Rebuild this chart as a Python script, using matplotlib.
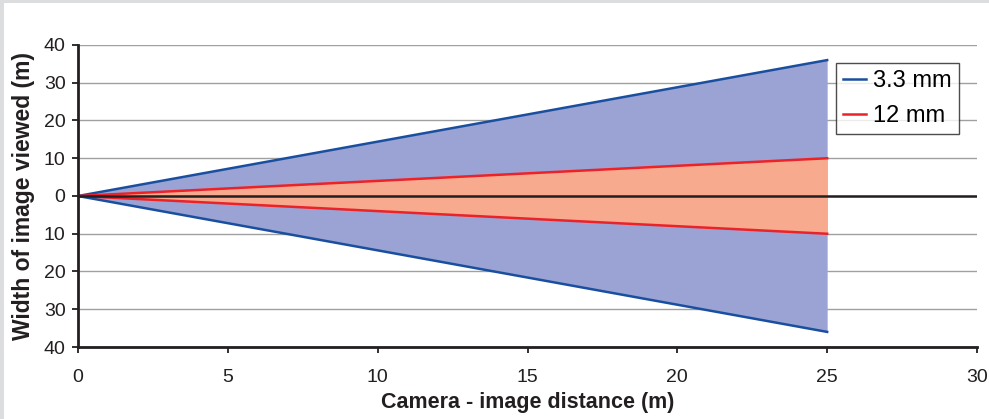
import numpy as np
import matplotlib
matplotlib.use('Agg')
import matplotlib.pyplot as plt
from matplotlib.patches import Rectangle

plt.rcParams['font.family'] = ['Liberation Sans', 'DejaVu Sans']

# distance from camera (m) and half-width of view (m)
distance = [0, 25]
half_width_33 = [0, 36]
half_width_12 = [0, 10]
labels = ['3.3 mm', '12 mm']
yticks = [-40, -30, -20, -10, 0, 10, 20, 30, 40]
ytick_labels = ['40', '30', '20', '10', '0', '10', '20', '30', '40']
xticks = [0, 5, 10, 15, 20, 25, 30]

blue_line = '#1a4fa0'
blue_fill = '#9aa3d3'
red_line = '#ec2229'
red_fill = '#f8aa8e'

fig = plt.figure(figsize=(9.89, 4.19), dpi=100)
fig.patch.set_facecolor('#dcdddf')
fig.patches.append(Rectangle((4 / 989, 0), 1, 1 - 3 / 419, transform=fig.transFigure,
                             facecolor='white', edgecolor='none', zorder=-10))

ax = fig.add_axes([78 / 989, 1 - 347 / 419, (977 - 78) / 989, (347 - 45) / 419])
ax.set_facecolor('none')

d = np.array(distance)
w33 = np.array(half_width_33)
w12 = np.array(half_width_12)

ax.fill_between(d, -w33, w33, color=blue_fill, lw=0, zorder=2)
ax.fill_between(d, -w12, w12, color=red_fill, lw=0, zorder=3)
l1, = ax.plot(d, w33, color=blue_line, lw=1.8, zorder=5, label=labels[0])
ax.plot(d, -w33, color=blue_line, lw=1.8, zorder=5)
l2, = ax.plot(d, w12, color=red_line, lw=1.8, zorder=5, label=labels[1])
ax.plot(d, -w12, color=red_line, lw=1.8, zorder=5)
ax.axhline(0, color='#231f20', lw=1.8, zorder=6)

ax.set_xlim(0, 30)
ax.set_ylim(-40, 40)
ax.set_yticks(yticks)
ax.set_yticklabels(ytick_labels)
ax.set_xticks(xticks)
ax.grid(axis='y', color='#a0a0a0', lw=1, zorder=1)

for s in ['top', 'right']:
    ax.spines[s].set_visible(False)
for s in ['left', 'bottom']:
    ax.spines[s].set_linewidth(2)
    ax.spines[s].set_color('#231f20')
    ax.spines[s].set_zorder(7)

ax.tick_params(axis='both', labelsize=14, colors='#231f20', width=1.3, length=4, pad=5)
ax.tick_params(axis='x', pad=12)

ax.set_xlabel('Camera - image distance (m)', fontsize=15.5, fontweight='bold', color='#231f20', labelpad=4)
ax.set_ylabel('Width of image viewed (m)', fontsize=16.5, fontweight='bold', color='#231f20', labelpad=6)

leg = ax.legend(handles=[l1, l2], loc='upper right', fontsize=17,
                frameon=True, fancybox=False, borderaxespad=0, handlelength=1.0, handletextpad=0.3,
                borderpad=0.3, labelspacing=0.55,
                bbox_to_anchor=((959 - 78) / 899, 1 - (63 - 45) / 302))
leg.get_frame().set_edgecolor('#231f20')
leg.get_frame().set_linewidth(1)
leg.set_zorder(10)

fig.savefig('out.png', dpi=100, facecolor=fig.get_facecolor())
